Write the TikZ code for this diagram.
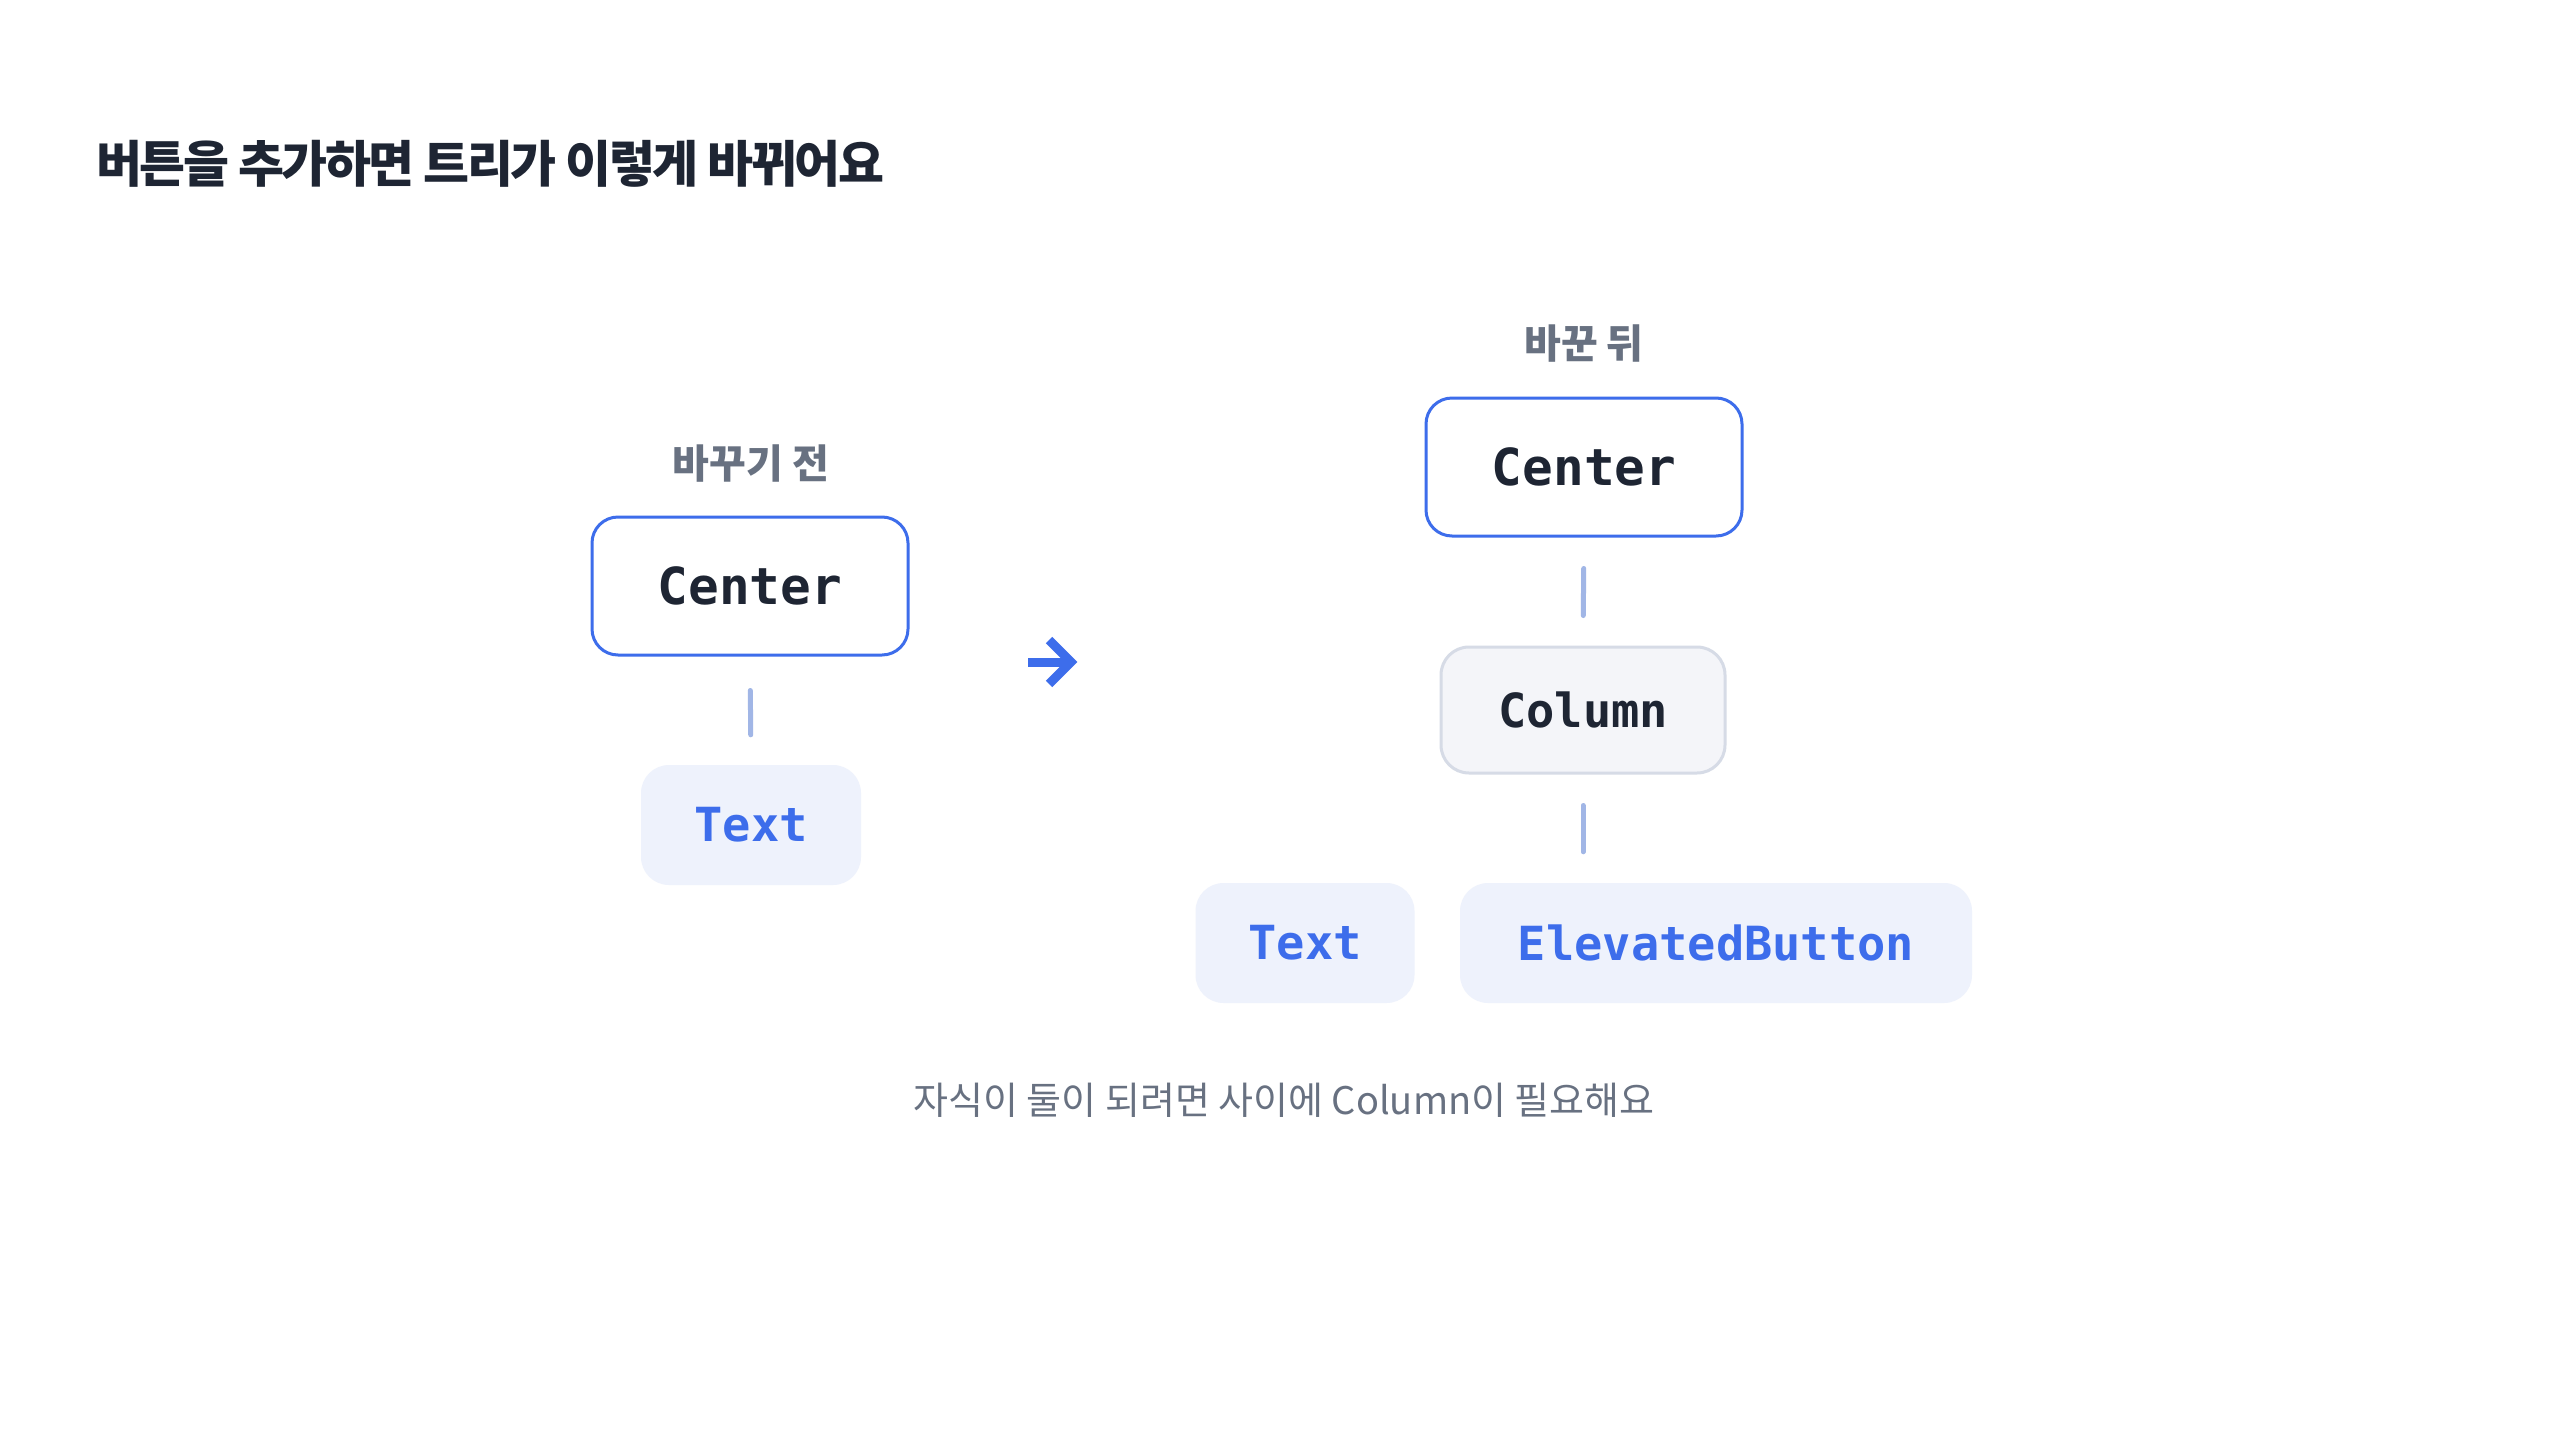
\documentclass[tikz,border=0pt]{standalone}
\usepackage{fontspec}
\setmainfont{Noto Sans CJK KR}
\newfontfamily\titlefont[LetterSpace=-5]{Noto Sans CJK KR}
\newfontfamily\codefont{DejaVu Sans Mono}
\definecolor{inkdark}{HTML}{1E2533}
\definecolor{inkgrey}{HTML}{687181}
\definecolor{accentblue}{HTML}{3D6DEB}
\definecolor{linkblue}{HTML}{A1B6E6}
\definecolor{leaffill}{HTML}{EEF2FC}
\definecolor{colfill}{HTML}{F4F5F9}
\definecolor{coldraw}{HTML}{D6DBE6}
\begin{document}
\begin{tikzpicture}[
	x=1pt, y=-1pt,
	bluebox/.style={shape=rectangle, draw=accentblue, line width=3pt, fill=white, rounded corners=26pt, minimum width=316pt, minimum height=138pt, inner sep=0pt, font=\codefont\bfseries\fontsize{51}{51}\selectfont, text=inkdark},
	greybox/.style={shape=rectangle, draw=coldraw, line width=3pt, fill=colfill, rounded corners=28pt, minimum width=284pt, minimum height=126pt, inner sep=0pt, font=\codefont\bfseries\fontsize{47}{47}\selectfont, text=inkdark},
	leafbox/.style={shape=rectangle, fill=leaffill, rounded corners=28pt, minimum height=120pt, inner sep=0pt, font=\codefont\bfseries\fontsize{47}{47}\selectfont, text=accentblue},
	headtext/.style={font=\bfseries\fontsize{40}{40}\selectfont, text=inkgrey, inner sep=0pt},
	linkline/.style={draw=linkblue, line width=5pt, line cap=round},
	arrowline/.style={draw=accentblue, line width=9pt},
]
\useasboundingbox (0,0) rectangle (2560,1440);
\fill[white] (0,0) rectangle (2560,1440);

\node[anchor=west, inner sep=0pt, font=\titlefont\bfseries\fontsize{50}{50}\selectfont, text=inkdark] (title) at (96,164) {버튼을 추가하면 트리가 이렇게 바뀌어요};

% before
\node[headtext] (labelold) at (751,464) {바꾸기 전};
\node[bluebox] (centerold) at (750,586) {Center};
\node[leafbox, minimum width=220pt] (textold) at (751,825) {Text};
\draw[linkline, shorten <=34pt, shorten >=30pt] (centerold.south) -- (textold.north);

% arrow
\coordinate (arrowstart) at (1028,662);
\coordinate (arrowend) at (1071,662);
\draw[arrowline] (arrowstart) -- (arrowend);
\draw[arrowline, line join=miter] (arrowend) ++(-22,-22) -- (arrowend) -- ++(-22,22);

% after
\node[headtext] (labelnew) at (1584,344) {바꾼 뒤};
\node[bluebox] (centernew) at (1584,467) {Center};
\node[greybox] (columnnew) at (1583,710) {Column};
\node[leafbox, minimum width=219pt] (textnew) at (1305,943) {Text};
\node[leafbox, minimum width=512pt] (buttonnew) at (1716,943) {ElevatedButton};
\draw[linkline, shorten <=31pt, shorten >=30pt] (centernew.south) -- (columnnew.north);
\draw[linkline, shorten <=31pt, shorten >=31pt] (columnnew.south) -- (columnnew.south |- buttonnew.north);

\node[font=\fontsize{38}{38}\selectfont, text=inkgrey, inner sep=0pt] (caption) at (1284,1100) {자식이 둘이 되려면 사이에 Column이 필요해요};
\end{tikzpicture}
\end{document}
